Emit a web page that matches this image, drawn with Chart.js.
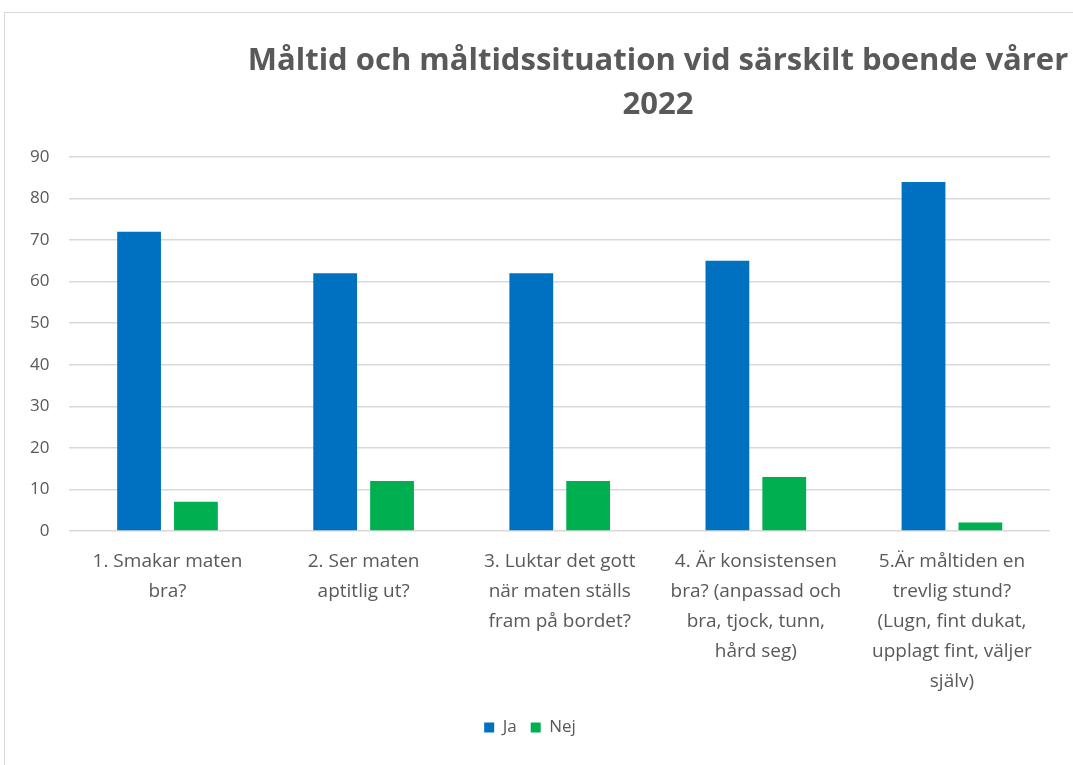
<!DOCTYPE html>
<html lang="sv">
<head>
    <meta charset="UTF-8">
    <title>Måltid och måltidssituation</title>
    <script src="https://cdn.jsdelivr.net/npm/chart.js"></script>
    <style>
        body { margin: 0; background: #fff; }
        #frame { position: absolute; left: 4px; top: 12px; width: 1100px; height: 800px; border: 1px solid #d9d9d9; }
        #title { position: absolute; left: 208px; width: 900px; top: 36px; text-align: center; white-space: nowrap;
                 font: bold 31px 'Open Sans', sans-serif; color: #595959; line-height: 44px; }
        canvas { position: absolute; left: 0; top: 0; }
    </style>
</head>
<body>
    <div id="frame"></div>
    <canvas id="chart" width="1073" height="765"></canvas>
    <div id="title">Måltid och måltidssituation vid särskilt boende vårer<br>2022</div>

    <script>
        const categories = [
            ['1. Smakar maten', 'bra?'],
            ['2. Ser maten', 'aptitlig ut?'],
            ['3. Luktar det gott', 'när maten ställs', 'fram på bordet?'],
            ['4. Är konsistensen', 'bra? (anpassad och', 'bra, tjock, tunn,', 'hård seg)'],
            ['5.Är måltiden en', 'trevlig stund?', '(Lugn, fint dukat,', 'upplagt fint, väljer', 'själv)']
        ];
        const ja = [72, 62, 62, 65, 84];
        const nej = [7, 12, 12, 13, 2];
        const yTicks = [0, 10, 20, 30, 40, 50, 60, 70, 80, 90];

        const font = "'Open Sans', sans-serif";
        const grey = '#595959';

        new Chart(document.getElementById('chart'), {
            type: 'bar',
            data: {
                labels: categories,
                datasets: [
                    { label: 'Ja', data: ja, backgroundColor: '#0070c0' },
                    { label: 'Nej', data: nej, backgroundColor: '#00b050' }
                ]
            },
            options: {
                responsive: false,
                animation: false,
                categoryPercentage: 0.58,
                barPercentage: 0.77,
                layout: { padding: { left: 10, right: 23, top: 157, bottom: 19 } },
                plugins: {
                    title: { display: false },
                    tooltip: { enabled: false },
                    legend: {
                        position: 'bottom',
                        labels: {
                            boxWidth: 10, boxHeight: 10, padding: 14,
                            color: grey, font: { family: font, size: 17 }
                        }
                    }
                },
                scales: {
                    x: {
                        grid: { display: false },
                        border: { display: false },
                        ticks: {
                            autoSkip: false, maxRotation: 0, minRotation: 0,
                            color: grey, padding: 8,
                            font: { family: font, size: 19, lineHeight: 1.58 }
                        }
                    },
                    y: {
                        min: 0, max: 90,
                        afterBuildTicks: axis => { axis.ticks = yTicks.map(v => ({ value: v })); },
                        grid: { color: '#d9d9d9', lineWidth: 1.5, drawTicks: false },
                        border: { display: false },
                        ticks: { color: grey, padding: 20, font: { family: font, size: 17 } }
                    }
                }
            }
        });
    </script>
</body>
</html>
